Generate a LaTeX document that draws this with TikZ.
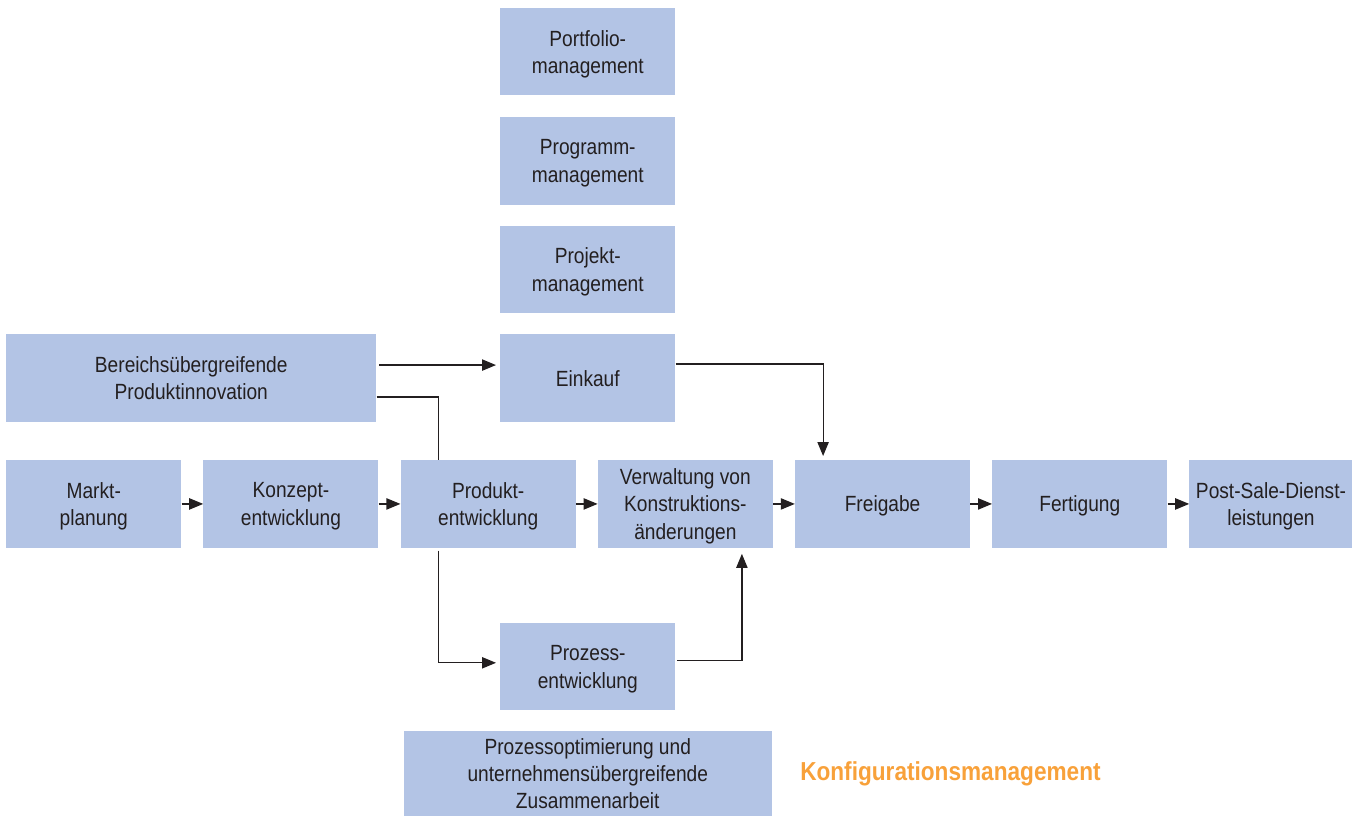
\documentclass[tikz,border=0pt]{standalone}
\usepackage{fontspec}
\setmainfont[FakeStretch=0.87]{Liberation Sans}
\usepackage{tikz}
\usetikzlibrary{arrows.meta,positioning,calc}
\definecolor{boxblue}{RGB}{179,196,229}
\definecolor{inkgrey}{RGB}{35,31,32}
\definecolor{konforange}{RGB}{248,161,58}
\tikzset{
  fl/box/.style={fill=boxblue, text=inkgrey, inner sep=0pt, text depth=0pt, minimum width=131.25pt, minimum height=65.5pt, align=center, font=\fontsize{16.5}{20.5}\selectfont},
  fl/wide/.style={fl/box, minimum width=277.5pt},
  fl/line/.style={draw=inkgrey, line width=0.9pt},
  fl/arrow/.style={fl/line, -{Triangle[length=10.5pt,width=8.5pt]}},
  fl/title/.style={text=konforange, inner sep=0pt, font=\bfseries\fontsize{19.5}{24}\selectfont}
}

\begin{document}
\begin{tikzpicture}[x=0.75pt, y=-0.75pt, node distance=16.25pt and 16.25pt]
  \useasboundingbox (0,0) rectangle (1365,815);

  \node[fl/box, anchor=north west] (markt) at (6,460) {Markt-\\planung};
  \node[fl/box, right=of markt] (konzept) {Konzept-\\entwicklung};
  \node[fl/box, right=of konzept] (produkt) {Produkt-\\entwicklung};
  \node[fl/box, right=of produkt] (verwaltung) {Verwaltung von\\Konstruktions-\\änderungen};
  \node[fl/box, right=of verwaltung] (freigabe) {Freigabe};
  \node[fl/box, right=of freigabe] (fertigung) {Fertigung};
  \node[fl/box, minimum width=122.25pt, right=of fertigung] (postsale) {Post-Sale-Dienst-\\leistungen};

  \node[fl/box, anchor=south] (einkauf) at ($(produkt.north)!0.5!(verwaltung.north)+(1,-38)$) {Einkauf};
  \node[fl/box, above=15.5pt of einkauf] (projekt) {Projekt-\\management};
  \node[fl/box, above=15.5pt of projekt] (programm) {Programm-\\management};
  \node[fl/box, above=16pt of programm] (portfolio) {Portfolio-\\management};
  \node[fl/wide, anchor=west] (bereich) at (markt.west |- einkauf) {Bereichsübergreifende\\Produktinnovation};

  \node[fl/box, anchor=north] (prozess) at ($(einkauf.south |- produkt.south)+(0,75)$) {Prozess-\\entwicklung};
  \node[fl/wide, minimum width=276pt, minimum height=63.75pt, below=15pt of prozess] (optimierung) {Prozessoptimierung und\\unternehmensübergreifende\\Zusammenarbeit};
  \node[fl/title, anchor=west] (konfig) at (800,774) {Konfigurationsmanagement};

  \draw[fl/arrow] (markt) -- (konzept);
  \draw[fl/arrow] (konzept) -- (produkt);
  \draw[fl/arrow] (produkt) -- (verwaltung);
  \draw[fl/arrow] (verwaltung) -- (freigabe);
  \draw[fl/arrow] (freigabe) -- (fertigung);
  \draw[fl/arrow] (fertigung) -- (postsale);

  \draw[fl/arrow, shorten <=2pt, shorten >=3pt] ([yshift=9.75pt]bereich.east) -- ([yshift=9.75pt]einkauf.west);
  \draw[fl/line] ([yshift=-14.25pt]bereich.east) -| ([xshift=-37pt]produkt.north);
  \draw[fl/arrow, shorten >=3pt] ([yshift=10.5pt]einkauf.east) -| ([xshift=-44.6pt]freigabe.north);
  \draw[fl/arrow, shorten <=2pt, shorten >=3pt] ([xshift=-37pt]produkt.south) |- ([yshift=3pt]prozess.west);
  \draw[fl/arrow, shorten <=1pt, shorten >=4.5pt] ([yshift=4.5pt]prozess.east) -| ([xshift=42.4pt]verwaltung.south);
\end{tikzpicture}
\end{document}
